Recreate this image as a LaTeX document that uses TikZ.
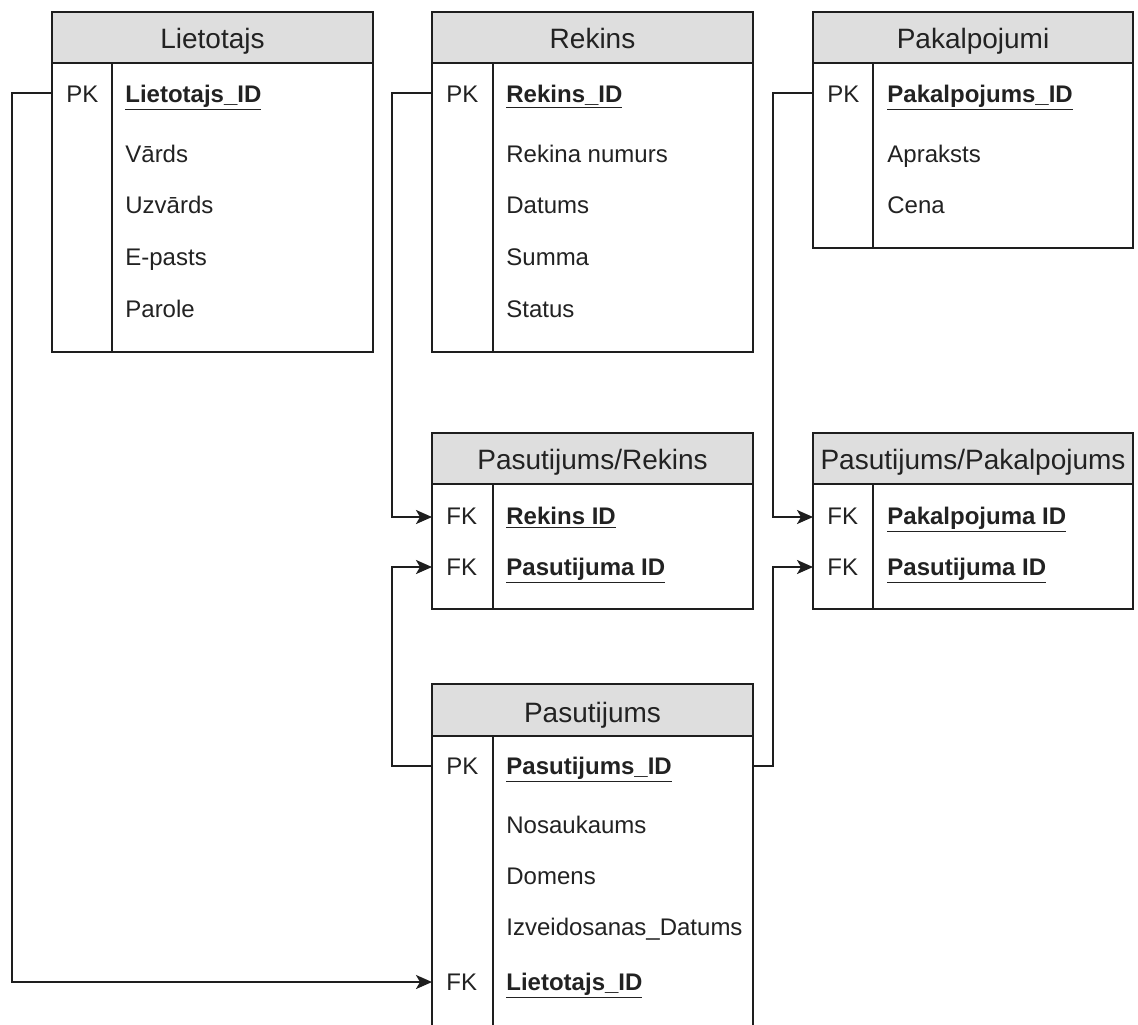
\documentclass[tikz,border=0pt]{standalone}
\usepackage{fontspec}
\setmainfont{Liberation Sans}
\usetikzlibrary{arrows.meta}
\definecolor{linec}{HTML}{1E1E1E}
\definecolor{txtc}{HTML}{222222}
\definecolor{hdrc}{HTML}{DEDEDE}
\tikzset{
  hdrbox/.style={draw=linec, line width=1.2pt, fill=hdrc},
  bodybox/.style={draw=linec, line width=1.2pt, fill=white},
  divline/.style={draw=linec, line width=1.1pt},
  title/.style={anchor=base, inner sep=0pt, text=txtc, font=\fontsize{14}{16}\selectfont},
  rowtxt/.style={anchor=base west, inner sep=0pt, text=txtc, font=\fontsize{12}{14}\selectfont},
  keytxt/.style={anchor=base west, inner sep=0pt, text=txtc, font=\fontsize{12}{14}\selectfont\bfseries},
  conn/.style={draw=linec, line width=1pt, -{Stealth[length=8pt,width=7pt,inset=2pt]}},
}
\newcommand{\ku}[1]{\underline{#1}}
\begin{document}
\begin{tikzpicture}[x=0.5pt,y=-0.5pt]
\useasboundingbox (0,0) rectangle (1138,1024);
\clip (0,0) rectangle (1138,1024);
\fill[white] (0,0) rectangle (1138,1024);

% ---------- Lietotajs ----------
\draw[hdrbox] (52,12) rectangle (373,63);
\draw[bodybox] (52,63) rectangle (373,352);
\draw[divline] (112,63) -- (112,352);
\node[title] (lieT) at (212.5,48) {Lietotajs};
\node[rowtxt] (lieK1) at (66,102) {PK};
\node[keytxt] (lieA1) at (125,102) {\ku{Lietotajs\_ID}};
\node[rowtxt] (lieA2) at (125,162) {Vārds};
\node[rowtxt] (lieA3) at (125,213) {Uzvārds};
\node[rowtxt] (lieA4) at (125,265) {E-pasts};
\node[rowtxt] (lieA5) at (125,317) {Parole};
\coordinate (lieP) at (52,93);

% ---------- Rekins ----------
\draw[hdrbox] (432,12) rectangle (753,63);
\draw[bodybox] (432,63) rectangle (753,352);
\draw[divline] (493,63) -- (493,352);
\node[title] (rekT) at (592.5,48) {Rekins};
\node[rowtxt] (rekK1) at (446,102) {PK};
\node[keytxt] (rekA1) at (506,102) {\ku{Rekins\_ID}};
\node[rowtxt] (rekA2) at (506,162) {Rekina numurs};
\node[rowtxt] (rekA3) at (506,213) {Datums};
\node[rowtxt] (rekA4) at (506,265) {Summa};
\node[rowtxt] (rekA5) at (506,317) {Status};
\coordinate (rekP) at (432,93);

% ---------- Pakalpojumi ----------
\draw[hdrbox] (813,12) rectangle (1133,63);
\draw[bodybox] (813,63) rectangle (1133,248);
\draw[divline] (873,63) -- (873,248);
\node[title] (pakT) at (973,48) {Pakalpojumi};
\node[rowtxt] (pakK1) at (827,102) {PK};
\node[keytxt] (pakA1) at (887,102) {\ku{Pakalpojums\_ID}};
\node[rowtxt] (pakA2) at (887,162) {Apraksts};
\node[rowtxt] (pakA3) at (887,213) {Cena};
\coordinate (pakP) at (813,93);

% ---------- Pasutijums/Rekins ----------
\draw[hdrbox] (432,433) rectangle (753,484);
\draw[bodybox] (432,484) rectangle (753,609);
\draw[divline] (493,484) -- (493,609);
\node[title] (prT) at (592.5,469) {Pasutijums/Rekins};
\node[rowtxt] (prK1) at (446,524) {FK};
\node[keytxt] (prA1) at (506,524) {\ku{Rekins ID}};
\node[rowtxt] (prK2) at (446,575) {FK};
\node[keytxt] (prA2) at (506,575) {\ku{Pasutijuma ID}};
\coordinate (prF1) at (432,517);
\coordinate (prF2) at (432,567);

% ---------- Pasutijums/Pakalpojums ----------
\draw[hdrbox] (813,433) rectangle (1133,484);
\draw[bodybox] (813,484) rectangle (1133,609);
\draw[divline] (873,484) -- (873,609);
\node[title] (ppT) at (973,469) {Pasutijums/Pakalpojums};
\node[rowtxt] (ppK1) at (827,524) {FK};
\node[keytxt] (ppA1) at (887,524) {\ku{Pakalpojuma ID}};
\node[rowtxt] (ppK2) at (827,575) {FK};
\node[keytxt] (ppA2) at (887,575) {\ku{Pasutijuma ID}};
\coordinate (ppF1) at (813,517);
\coordinate (ppF2) at (813,567);

% ---------- Pasutijums ----------
\draw[hdrbox] (432,684) rectangle (753,736);
\draw[bodybox] (432,736) rectangle (753,1040);
\draw[divline] (493,736) -- (493,1040);
\node[title] (pasT) at (592.5,722) {Pasutijums};
\node[rowtxt] (pasK1) at (446,774) {PK};
\node[keytxt] (pasA1) at (506,774) {\ku{Pasutijums\_ID}};
\node[rowtxt] (pasA2) at (506,833) {Nosaukaums};
\node[rowtxt] (pasA3) at (506,884) {Domens};
\node[rowtxt] (pasA4) at (506,935) {Izveidosanas\_Datums};
\node[rowtxt] (pasK5) at (446,990) {FK};
\node[keytxt] (pasA5) at (506,990) {\ku{Lietotajs\_ID}};
\coordinate (pasPL) at (432,766);
\coordinate (pasPR) at (753,766);
\coordinate (pasF) at (432,982);

% ---------- connectors ----------
\draw[conn] (lieP) -- ++(-40,0) |- (pasF);
\draw[conn] (rekP) -- ++(-40,0) |- (prF1);
\draw[conn] (pasPL) -- ++(-40,0) |- (prF2);
\draw[conn] (pakP) -- ++(-40,0) |- (ppF1);
\draw[conn] (pasPR) -- ++(20,0) |- (ppF2);
\end{tikzpicture}
\end{document}
